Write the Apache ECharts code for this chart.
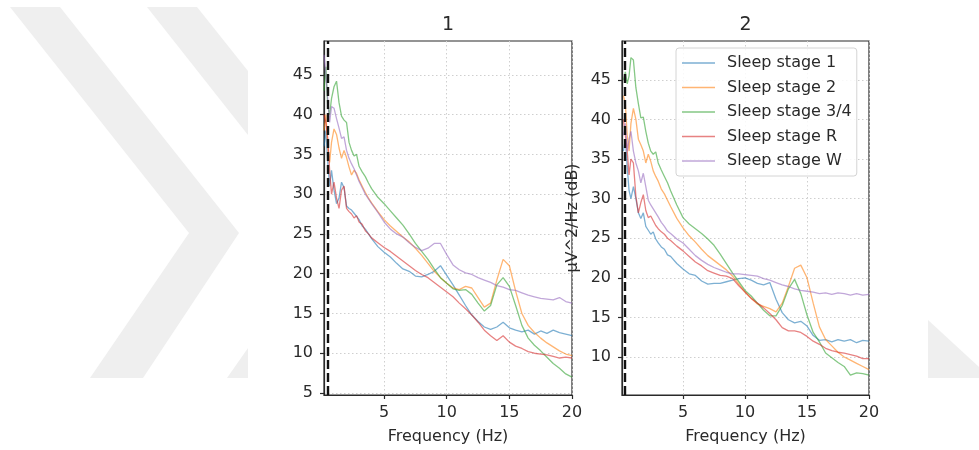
<!DOCTYPE html>
<html>
<head>
<meta charset="utf-8">
<script src="https://cdn.jsdelivr.net/npm/echarts@6/dist/echarts.min.js"></script>
<style>html,body{margin:0;padding:0;background:#fff;}#c{width:979px;height:450px;}</style>
</head>
<body>
<div id="c"></div>
<script>
// ---------- data ----------
const freqs = [0.2,0.35,0.5,0.65,0.8,1.0,1.2,1.4,1.6,1.8,2.0,2.2,2.4,2.6,2.8,3.0,3.25,3.5,3.75,4.0,4.5,5.0,5.5,6.0,6.5,7.0,7.5,8.0,8.5,9.0,9.5,10.0,10.5,11.0,11.5,12.0,12.5,13.0,13.5,14.0,14.5,15.0,15.5,16.0,16.5,17.0,17.5,18.0,18.5,19.0,19.5,20.0];
const seriesNames = ['Sleep stage 1','Sleep stage 2','Sleep stage 3/4','Sleep stage R','Sleep stage W'];
const panelTitles = ['1','2'];
const xTicks = [5,10,15,20];
const yTicks1 = [5,10,15,20,25,30,35,40,45];
const yTicks2 = [10,15,20,25,30,35,40,45];
const dashedX = [0.5, 0.3];

// panel 1
const p1_s1 = [36,38,34,31,33,30.5,28.8,29.5,31.5,30.8,28.5,28.2,28.0,27.6,27.2,26.8,26.0,25.6,25.0,24.4,23.4,22.7,22.1,21.3,20.6,20.3,19.7,19.6,19.9,20.3,21.0,19.8,18.6,17.3,16.0,14.8,14.0,13.3,13.0,13.3,13.9,13.2,12.9,12.7,12.9,12.4,12.8,12.5,12.9,12.6,12.4,12.2];
const p1_s2 = [38,40,36,34,36.5,38.2,37.5,35.8,34.5,35.5,34.6,33.4,32.4,33.0,32.6,31.8,31.0,30.2,29.5,28.9,27.8,26.8,26.0,25.3,24.6,24.0,23.2,22.3,21.3,20.3,19.5,18.8,18.2,18.0,18.4,18.2,17.0,15.8,16.3,19.2,21.8,21.0,17.8,15.0,13.5,12.6,11.9,11.3,10.8,10.3,9.9,9.7];
const p1_s34 = [43,46,41,40,42,43.5,44.2,41.5,39.8,39.3,39.0,36.5,35.5,34.8,35.0,33.5,32.8,32.2,31.4,30.7,29.6,28.8,27.9,27.0,26.1,25.0,23.8,22.8,21.8,20.6,19.5,18.8,18.1,17.9,18.0,17.4,16.3,15.3,16.0,18.6,19.5,18.4,16.0,13.5,11.9,11.0,10.3,9.5,8.7,8.1,7.4,7.0];
const p1_sR = [40,39,37,33,30,31.5,29.5,28.2,30.5,31.0,28.2,27.8,27.5,27.0,27.3,26.5,26.2,25.4,25.0,24.5,23.9,23.3,22.8,22.2,21.6,21.0,20.4,19.9,19.5,18.9,18.3,17.7,17.1,16.3,15.6,14.8,13.9,12.9,12.2,11.6,12.2,11.4,10.9,10.6,10.2,10.0,9.9,9.8,9.6,9.4,9.5,9.4];
const p1_sW = [47.5,45,42,39,41,40.8,39.5,38.3,37.0,37.2,35.5,34.5,33.8,33.2,32.4,31.6,30.8,30.0,29.4,28.8,27.7,26.5,25.6,25.0,24.6,23.9,23.3,22.9,23.2,23.8,23.8,22.4,21.1,20.5,20.1,19.9,19.5,19.2,18.9,18.5,18.3,18.0,17.9,17.6,17.3,17.1,16.9,16.8,16.7,17.0,16.5,16.3];

// panel 2
const p2_s1 = [36,37.5,34,31,30,31.5,30,28.2,27.5,28.2,26.5,26.0,25.5,25.8,24.9,24.4,23.9,23.6,22.9,22.7,21.8,21.1,20.5,20.3,19.6,19.2,19.3,19.3,19.5,19.7,19.9,20.0,19.7,19.3,19.1,19.4,17.3,15.6,14.7,14.3,14.5,13.9,12.7,12.1,12.2,11.9,12.2,12.0,12.2,11.8,12.1,12.0];
const p2_s2 = [43,42,38,36,39.5,41.4,40.0,37.5,36.8,36.0,34.5,35.6,34.7,33.5,32.8,32.2,31.2,30.6,29.8,29.0,27.5,26.3,25.3,24.5,23.6,22.8,22.2,21.6,21.0,20.2,19.2,18.2,17.4,16.7,16.4,16.1,15.7,16.8,18.9,21.2,21.6,20.0,16.8,13.8,12.2,11.4,10.6,10.0,9.6,9.2,8.8,8.4];
const p2_s34 = [45,46,44.5,45.5,47.8,47.5,44.0,42.0,40.2,40.3,38.5,37.0,36.0,35.6,35.9,34.5,33.6,32.8,32.0,31.0,29.2,27.6,26.8,26.2,25.6,24.9,24.1,23.0,21.8,20.6,19.5,18.4,17.7,16.8,15.9,15.2,15.2,16.5,18.6,19.8,18.0,15.3,13.1,11.9,10.5,9.9,9.3,8.8,7.7,8.0,7.9,7.7];
const p2_sR = [40,38,36,33,35,34.5,30.3,28.2,29.5,30.5,28.5,27.6,27.8,27.2,26.6,26.2,25.8,25.5,25.0,24.7,24.0,23.4,22.7,22.0,21.5,20.9,20.6,20.3,20.2,19.9,19.0,18.2,17.4,16.8,16.2,15.5,14.7,13.7,13.3,13.3,13.1,12.6,12.0,11.6,11.1,10.8,10.6,10.5,10.3,10.1,9.8,9.8];
const p2_sW = [38,39.5,36,37.5,38.5,36,34.5,33.5,32.0,33.2,31.5,29.8,29.2,28.7,28.2,27.7,27.0,26.5,25.9,25.6,24.9,24.4,23.6,22.8,22.2,21.7,21.3,21.0,20.7,20.5,20.5,20.4,20.3,20.2,19.9,19.7,19.4,19.1,18.9,18.6,18.4,18.3,18.2,18.0,18.1,17.9,18.1,18.0,17.8,18.0,17.8,17.9];

const panel1 = [p1_s1,p1_s2,p1_s34,p1_sR,p1_sW];
const panel2 = [p2_s1,p2_s2,p2_s34,p2_sR,p2_sW];

// ---------- styling ----------
const FONT = 'DejaVu Sans';
const FS = 16;
const colors = ['rgba(31,119,180,0.58)','rgba(255,127,14,0.58)','rgba(44,160,44,0.58)','rgba(214,39,40,0.58)','rgba(148,103,189,0.58)'];
const axisColor = '#2a2a2a';
const textColor = '#2a2a2a';

function pairs(vals){ return freqs.map((f,i)=>[f, vals[i]]); }

function xAxisCfg(gi, min){
  return {
    type:'value', gridIndex:gi, min:min, max:20,
    name:'Frequency (Hz)', nameLocation:'middle', nameGap:34,
    nameTextStyle:{fontFamily:FONT,fontSize:FS,color:textColor},
    axisLine:{show:true,lineStyle:{color:axisColor,width:1.2}},
    axisTick:{show:true,inside:false,length:4,customValues:xTicks,lineStyle:{color:axisColor,width:1.2}},
    axisLabel:{show:true,customValues:xTicks,margin:10,fontFamily:FONT,fontSize:FS,color:textColor},
    splitLine:{show:true,lineStyle:{color:'#cfcfcf',type:[1.5,2.5],width:1}}
  };
}
function yAxisCfg(gi, min, max, ticks, name){
  const c = {
    type:'value', gridIndex:gi, min:min, max:max,
    axisLine:{show:true,lineStyle:{color:axisColor,width:1.2}},
    axisTick:{show:true,inside:false,length:4,customValues:ticks,lineStyle:{color:axisColor,width:1.2}},
    axisLabel:{show:true,customValues:ticks,margin:11,fontFamily:FONT,fontSize:FS,color:textColor},
    splitLine:{show:true,lineStyle:{color:'#cfcfcf',type:[1.5,2.5],width:1}}
  };
  if(name){
    c.name = name; c.nameLocation='middle'; c.nameGap=41; c.nameRotate=90;
    c.nameTextStyle={fontFamily:FONT,fontSize:FS,color:textColor};
  }
  return c;
}

const series = [];
[panel1,panel2].forEach((panel,pi)=>{
  panel.forEach((vals,si)=>{
    const s = {
      type:'line', name:seriesNames[si], xAxisIndex:pi, yAxisIndex:pi,
      data:pairs(vals), showSymbol:false, symbol:'none', smooth:false,
      color:colors[si], lineStyle:{width:1.3,color:colors[si]}, z:3
    };
    if(si===0){
      s.markLine = {silent:true, symbol:['none','none'], label:{show:false}, animation:false,
        lineStyle:{color:'#111',type:[9,4],width:2.4}, emphasis:{disabled:true},
        data:[{xAxis:dashedX[pi]}]};
    }
    series.push(s);
  });
});

const wm = '#efefef';
const option = {
  animation:false,
  backgroundColor:'#ffffff',
  textStyle:{fontFamily:FONT},
  graphic:[
    {type:'polygon', z:-10, shape:{points:[[10,7],[60,7],[239,233],[143,378],[90,378],[189,233]]}, style:{fill:wm}},
    {type:'polygon', z:-10, shape:{points:[[147,7],[197,7],[248,71],[248,135]]}, style:{fill:wm}},
    {type:'polygon', z:-10, shape:{points:[[227,378],[248,378],[248,348]]}, style:{fill:wm}},
    {type:'polygon', z:-10, shape:{points:[[928,320],[979,367],[979,378],[928,378]]}, style:{fill:wm}},
    {type:'text', x:448, y:25, style:{text:panelTitles[0], fontFamily:FONT, fontSize:19, fill:textColor, align:'center', verticalAlign:'middle'}},
    {type:'text', x:745.5, y:25, style:{text:panelTitles[1], fontFamily:FONT, fontSize:19, fill:textColor, align:'center', verticalAlign:'middle'}}
  ],
  grid:[
    {left:324, top:41, width:248, height:354, show:true, borderColor:axisColor, borderWidth:1.2, backgroundColor:'transparent', containLabel:false},
    {left:622, top:41, width:247, height:355, show:true, borderColor:axisColor, borderWidth:1.2, backgroundColor:'transparent', containLabel:false}
  ],
  xAxis:[xAxisCfg(0,0.2), xAxisCfg(1,0.08)],
  yAxis:[yAxisCfg(0,4.75,49.25,yTicks1,null), yAxisCfg(1,5.2,49.9,yTicks2,'µV^2/Hz (dB)')],
  legend:{
    show:true, orient:'vertical', left:676, top:48, data:seriesNames,
    icon:'rect', itemWidth:33, itemHeight:1.6, itemGap:6.5,
    padding:[6,5,6,6], borderColor:'#d4d4d4', borderWidth:1, borderRadius:3,
    backgroundColor:'rgba(255,255,255,0.85)', selectedMode:false,
    textStyle:{fontFamily:FONT,fontSize:FS,color:textColor,padding:[0,0,0,7],lineHeight:18}
  },
  series:series
};
const chart = echarts.init(document.getElementById('c'), null, {renderer:'canvas'});
chart.setOption(option);
</script>
</body>
</html>
